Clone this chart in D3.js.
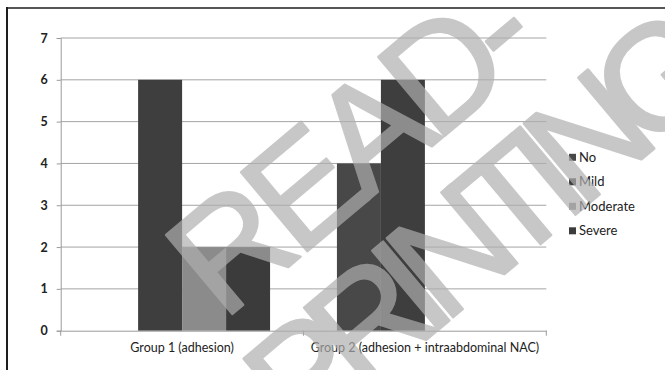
<!DOCTYPE html>
<html>
<head>
<meta charset="utf-8">
<script src="https://cdn.jsdelivr.net/npm/d3@7"></script>
<style>
  html, body { margin: 0; padding: 0; background: #fff; }
  svg { display: block; }
</style>
</head>
<body>
<svg id="chart" width="665" height="370"></svg>
<script>
const categories = ["Group 1 (adhesion)", "Group 2 (adhesion + intraabdominal NAC)"];
const seriesNames = ["No", "Mild", "Moderate", "Severe"];
const noValues = [0, 4];
const mildValues = [6, 6];
const moderateValues = [2, 0];
const severeValues = [2, 0];
const yTicks = [0, 1, 2, 3, 4, 5, 6, 7];
const seriesColors = ["#484848", "#3e3e3e", "#8b8b8b", "#3b3b3b"];
const watermarkLines = ["READ-", "PRINTING"];

const seriesValues = [noValues, mildValues, moderateValues, severeValues];
const data = categories.map((c, i) => ({
  category: c,
  values: seriesNames.map((s, j) => ({ series: s, value: seriesValues[j][i] }))
}));

const svg = d3.select("#chart");
const font = "Lato, 'Open Sans', sans-serif";

const plotLeft = 60.7, plotRight = 546.3, plotTop = 38, plotBottom = 330.7;

const x0 = d3.scaleBand().domain(categories).range([plotLeft, plotRight]).paddingInner(0).paddingOuter(0);
const x1 = d3.scaleBand().domain(seriesNames).range([0, x0.bandwidth()]).paddingInner(0).paddingOuter(0.76);
const y = d3.scaleLinear().domain([0, 7]).range([plotBottom, plotTop]);
const color = d3.scaleOrdinal().domain(seriesNames).range(seriesColors);

// frame
svg.append("line").attr("x1", 7).attr("x2", 7).attr("y1", 7).attr("y2", 370)
  .attr("stroke", "#1e1e1e").attr("stroke-width", 2);
svg.append("line").attr("x1", 6).attr("x2", 665).attr("y1", 8).attr("y2", 8)
  .attr("stroke", "#1e1e1e").attr("stroke-width", 1.5);

// gridlines
svg.append("g").selectAll("line").data(yTicks.filter(d => d > 0)).join("line")
  .attr("x1", plotLeft).attr("x2", plotRight)
  .attr("y1", d => y(d)).attr("y2", d => y(d))
  .attr("stroke", "#a4a4a4").attr("stroke-width", 1);

// y axis
const yAxis = d3.axisLeft(y).tickValues(yTicks).tickSize(4).tickPadding(9).tickFormat(d3.format("d"));
const gy = svg.append("g").attr("transform", `translate(${plotLeft},0)`).call(yAxis);
gy.select(".domain").attr("stroke", "#9a9a9a");
gy.selectAll(".tick line").attr("stroke", "#9a9a9a");
gy.selectAll("text").attr("font-family", font).attr("font-size", 12.5).attr("font-weight", 700).attr("fill", "#222");

// bars
svg.append("g").selectAll("g").data(data).join("g")
  .attr("transform", d => `translate(${x0(d.category)},0)`)
  .selectAll("rect").data(d => d.values.filter(v => v.value > 0)).join("rect")
  .attr("x", d => x1(d.series))
  .attr("width", x1.bandwidth())
  .attr("y", d => y(d.value))
  .attr("height", d => y(0) - y(d.value))
  .attr("fill", d => color(d.series));

// x axis
const xAxis = d3.axisBottom(x0).tickSize(0).tickPadding(12);
const gx = svg.append("g").attr("transform", `translate(0,${plotBottom})`).call(xAxis);
gx.select(".domain").attr("stroke", "#9a9a9a");
gx.selectAll("text").attr("font-family", font).attr("font-size", 12.5).attr("fill", "#222");
gx.append("g").selectAll("line").data([plotLeft, ...categories.map(c => x0(c) + x0.bandwidth())]).join("line")
  .attr("x1", d => d).attr("x2", d => d).attr("y1", 0).attr("y2", 5)
  .attr("stroke", "#9a9a9a");

// legend
const legend = svg.append("g").selectAll("g").data(seriesNames).join("g")
  .attr("transform", (d, i) => `translate(569,${157.3 + i * 24.5})`);
legend.append("rect").attr("x", 0).attr("y", -3.5).attr("width", 7).attr("height", 7).attr("fill", d => color(d));
legend.append("text").attr("x", 10).attr("y", 0).attr("dy", "0.36em")
  .attr("font-family", font).attr("font-size", 13).attr("fill", "#222").text(d => d);

// watermark
const wm = svg.append("g").attr("opacity", 0.69);
const wmPos = [{ x: 352, y: 145, len: 425 }, { x: 485, y: 222, len: 570 }];
wm.selectAll("text").data(watermarkLines).join("text")
  .attr("transform", (d, i) => `translate(${wmPos[i].x},${wmPos[i].y}) rotate(-40)`)
  .attr("text-anchor", "middle").attr("dy", "0.35em")
  .attr("textLength", (d, i) => wmPos[i].len).attr("lengthAdjust", "spacing")
  .attr("font-family", "'Liberation Sans Narrow', 'Liberation Sans', Arial, sans-serif")
  .attr("font-stretch", "condensed").attr("font-size", 150)
  .attr("fill", "#afafaf").attr("stroke", "#afafaf").attr("stroke-width", 2.5)
  .attr("stroke-linejoin", "round")
  .text(d => d);
</script>
</body>
</html>
